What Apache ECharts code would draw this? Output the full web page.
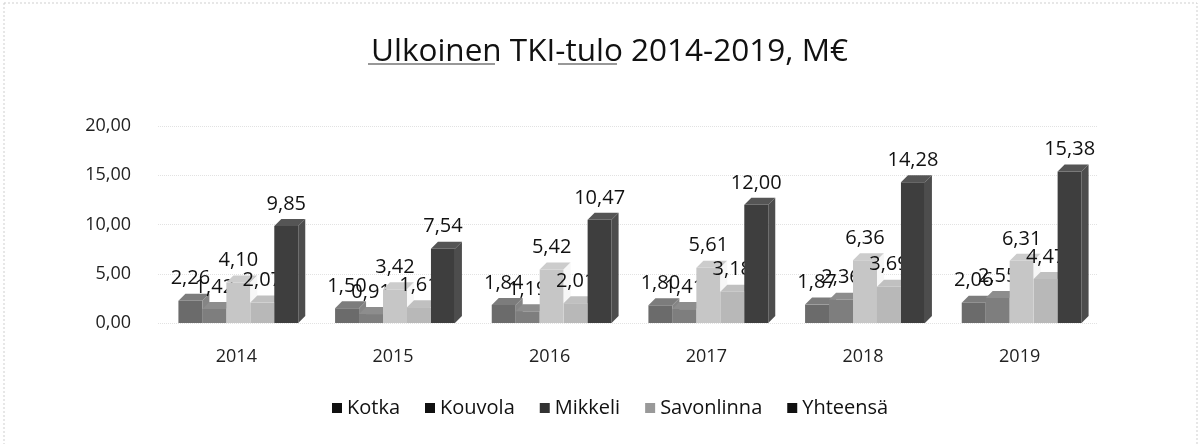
<!DOCTYPE html>
<html>
<head>
<meta charset="utf-8">
<script src="https://cdn.jsdelivr.net/npm/echarts@6/dist/echarts.min.js"></script>
<style>
  html, body { margin: 0; padding: 0; background: #fff; }
  #main { width: 1201px; height: 444px; }
</style>
</head>
<body>
<div id="main"></div>
<script>
const years = ['2014', '2015', '2016', '2017', '2018', '2019'];
const kotka = [2.26, 1.50, 1.84, 1.80, 1.87, 2.06];
const kouvola = [1.42, 0.91, 1.19, 1.41, 2.36, 2.55];
const mikkeli = [4.10, 3.42, 5.42, 5.61, 6.36, 6.31];
const savonlinna = [2.07, 1.61, 2.01, 3.18, 3.69, 4.47];
const yhteensa = [9.85, 7.54, 10.47, 12.00, 14.28, 15.38];
const names = ['Kotka', 'Kouvola', 'Mikkeli', 'Savonlinna', 'Yhteensä'];
const colors = ['#6b6b6b', '#7e7e7e', '#c6c6c6', '#b8b8b8', '#3e3e3e'];
const legendColors = ['#111', '#111', '#333', '#999', '#111'];

const font = '"Open Sans", Lato, sans-serif';

function fmt(v) {
  return v.toFixed(2).replace('.', ',');
}

function bar3d(idx) {
  const color = colors[idx];
  return function (params, api) {
    const cat = api.value(0);
    const v = api.value(1);
    const base = api.coord([cat, 0]);
    const top = api.coord([cat, v]);
    const band = api.size([1, 0])[0];
    const w = band * 0.153;
    const d = 7;
    const x0 = base[0] - 2.5 * w + idx * w + 2;
    const x1 = x0 + w;
    return {
      type: 'group',
      children: [
        {
          type: 'rect',
          shape: { x: x0, y: top[1], width: w, height: base[1] - top[1] },
          style: { fill: color }
        },
        {
          type: 'polygon',
          shape: { points: [[x0, top[1]], [x0 + d, top[1] - d], [x1 + d, top[1] - d], [x1, top[1]]] },
          style: { fill: echarts.color.lift(color, 0.12) }
        },
        {
          type: 'polygon',
          shape: { points: [[x1, top[1]], [x1 + d, top[1] - d], [x1 + d, base[1] - d], [x1, base[1]]] },
          style: { fill: echarts.color.lift(color, -0.25) }
        },
        {
          type: 'text',
          style: {
            text: fmt(v),
            x: x0 + w / 2,
            y: top[1] - d - 5,
            align: 'center',
            verticalAlign: 'bottom',
            font: '20px ' + font,
            fill: '#111'
          }
        }
      ]
    };
  };
}

const seriesValues = [kotka, kouvola, mikkeli, savonlinna, yhteensa];

const option = {
  backgroundColor: '#fff',
  animation: false,
  title: {
    text: 'Ulkoinen TKI-tulo 2014-2019, M€',
    left: 366,
    top: 31,
    textStyle: { fontFamily: font, fontSize: 31.5, fontWeight: 'normal', color: '#111' }
  },
  legend: {
    bottom: 21,
    left: 327,
    icon: 'rect',
    itemWidth: 10,
    itemHeight: 10,
    itemGap: 25,
    textStyle: { fontFamily: font, fontSize: 20, color: '#111' },
    data: names.map((n, i) => ({ name: n, itemStyle: { color: legendColors[i] } }))
  },
  grid: { left: 158, right: 103, top: 126, bottom: 121 },
  xAxis: {
    type: 'category',
    data: years,
    axisLine: { show: false },
    axisTick: { show: false },
    axisLabel: { margin: 25, fontFamily: font, fontSize: 18, color: '#222' }
  },
  yAxis: {
    type: 'value',
    min: 0,
    max: 20,
    interval: 5,
    axisLine: { show: false },
    axisTick: { show: false },
    axisLabel: { margin: 27, fontFamily: font, fontSize: 18, color: '#222', formatter: fmt },
    splitLine: { lineStyle: { color: '#e2e2e2', type: 'dotted' } }
  },
  graphic: [
    {
      type: 'rect',
      shape: { x: 4, y: 3, width: 1193, height: 460 },
      style: { fill: 'none', stroke: '#cfcfcf', lineDash: [2, 2] },
      silent: true
    },
    {
      type: 'line',
      shape: { x1: 368, y1: 64, x2: 495, y2: 64 },
      style: { stroke: '#333', lineWidth: 1.2 },
      silent: true
    },
    {
      type: 'line',
      shape: { x1: 558, y1: 64, x2: 617, y2: 64 },
      style: { stroke: '#333', lineWidth: 1.2 },
      silent: true
    }
  ],
  series: seriesValues.map((vals, i) => ({
    name: names[i],
    type: 'custom',
    itemStyle: { color: colors[i] },
    renderItem: bar3d(i),
    data: vals.map((v, j) => [j, v])
  }))
};

const myChart = echarts.init(document.getElementById('main'));
myChart.setOption(option);
</script>
</body>
</html>
